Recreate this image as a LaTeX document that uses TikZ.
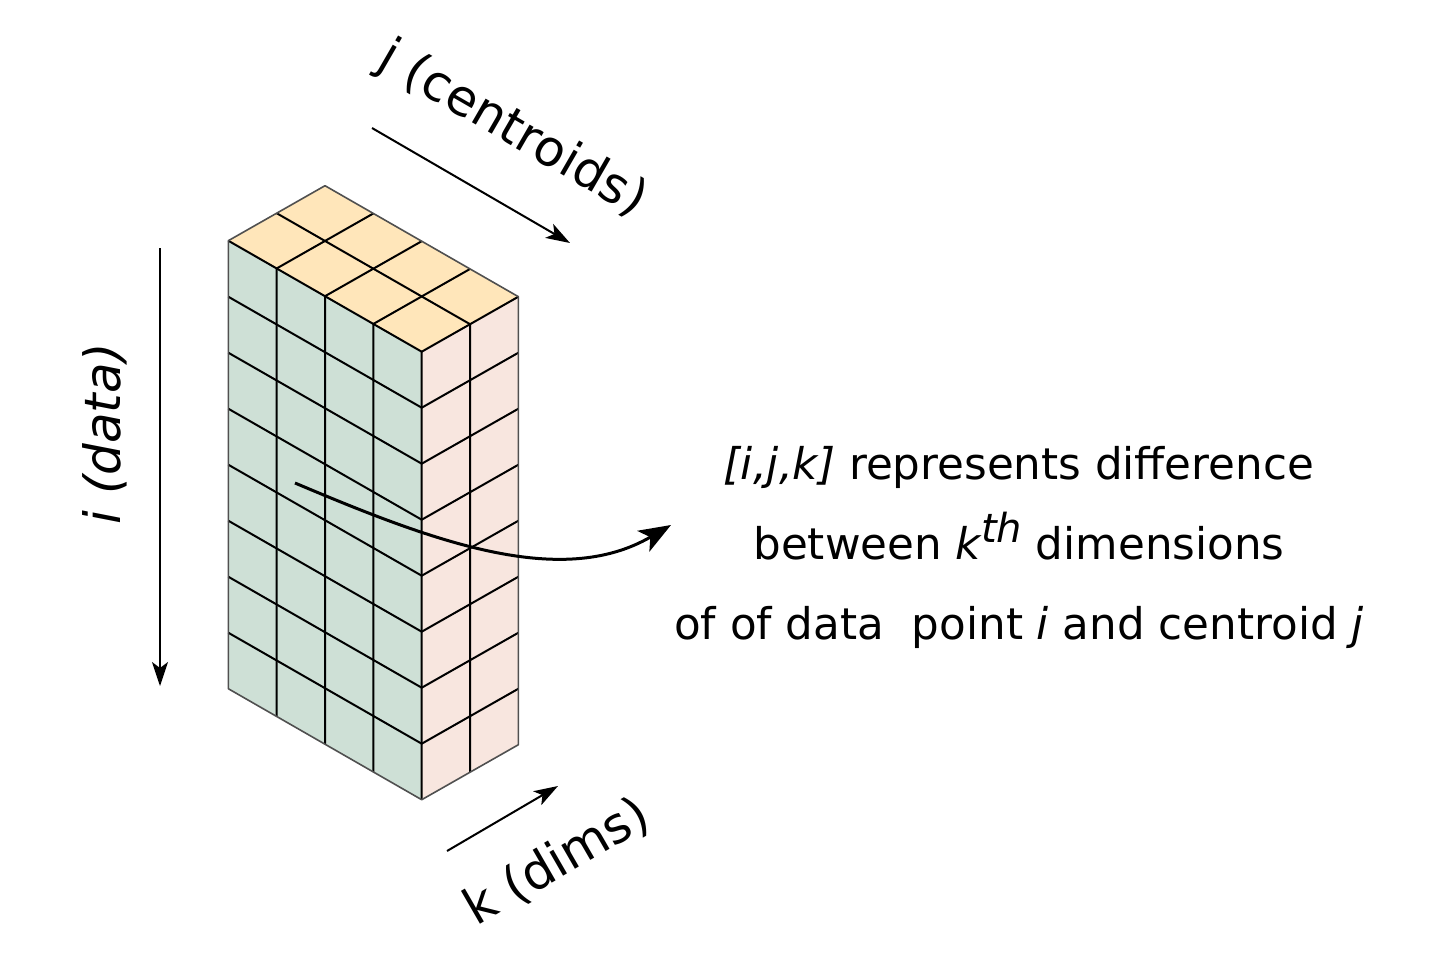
\documentclass[tikz,border=0pt]{standalone}
\usepackage{fontspec}
\setmainfont{DejaVu Sans}
\usetikzlibrary{arrows.meta}
\definecolor{frontgreen}{RGB}{206,224,214}
\definecolor{topyellow}{RGB}{255,230,186}
\definecolor{sidepink}{RGB}{248,230,223}
\definecolor{edgegray}{RGB}{80,80,80}

\begin{document}
\begin{tikzpicture}[x=0.5pt, y=-0.5pt,
  outline/.style={draw=edgegray, line width=0.8pt, line join=round},
  gridline/.style={draw=black, line width=1pt},
  axisarrow/.style={line width=1pt, -{Stealth[length=12pt, width=8pt, inset=3pt]}},
  pointer/.style={line width=1.5pt, -{Stealth[length=16pt, width=12pt, inset=4pt]}},
  axislabel/.style={font=\fontsize{25}{30}\selectfont, inner sep=0pt},
  note/.style={font=\fontsize{21.8}{40}\selectfont, align=center, inner sep=0pt}
]
  \useasboundingbox (0,0) rectangle (1443,959);
  % Block of cells: 4 wide (j), 8 high (i), 2 deep (k)
  \coordinate (corner) at (228.3,240.7);
  \begin{scope}[shift={(corner)}, x={(24.175pt,-13.875pt)}, y={(0pt,-28pt)}, z={(24.175pt,13.75pt)}]
    \fill[frontgreen] (0,0,0) -- (4,0,0) -- (4,8,0) -- (0,8,0) -- cycle;
    \fill[topyellow] (0,0,0) -- (4,0,0) -- (4,0,2) -- (0,0,2) -- cycle;
    \fill[sidepink] (4,0,0) -- (4,0,2) -- (4,8,2) -- (4,8,0) -- cycle;
    % cell lines
    \foreach \c in {1,2,3} {
      \draw[gridline] (\c,0,2) -- (\c,0,0) -- (\c,8,0);
    }
    \foreach \r in {1,...,7} {
      \draw[gridline] (0,\r,0) -- (4,\r,0) -- (4,\r,2);
    }
    \draw[gridline] (0,0,1) -- (4,0,1) -- (4,8,1);
    \draw[gridline] (0,0,0) -- (4,0,0) -- (4,8,0);
    \draw[gridline] (4,0,0) -- (4,0,2);
    % silhouette
    \draw[outline] (0,0,0) -- (0,0,2) -- (4,0,2) -- (4,8,2) -- (4,8,0) -- (0,8,0) -- cycle;
  \end{scope}
  % Axis arrows
  \coordinate (i-from) at (160,248);
  \coordinate (i-to)   at (160,686);
  \coordinate (j-from) at (372,128);
  \coordinate (j-to)   at (570,243);
  \coordinate (k-from) at (447,851);
  \coordinate (k-to)   at (558,786);
  \draw[axisarrow] (i-from) -- (i-to);
  \draw[axisarrow] (j-from) -- (j-to);
  \draw[axisarrow] (k-from) -- (k-to);
  % Axis labels
  \node[axislabel, rotate=90]  (ilabel) at (105,434) {\itshape i (data)};
  \node[axislabel, rotate=-30] (jlabel) at (512,130) {j (centroids)};
  \node[axislabel, rotate=30]  (klabel) at (557,862) {k (dims)};
  % Explanation
  \node[note] (desc) at (1019,547) {{\itshape [i,j,k]} represents difference\\
    between {\itshape k}\raisebox{0.38em}{\fontsize{20}{20}\selectfont\itshape th} dimensions\\
    of of data\ \ point {\itshape i} and centroid {\itshape j}};
  \coordinate (cellpt)  at (295,483);
  \coordinate (desctip) at (671,525);
  \draw[pointer] (cellpt) .. controls (430,540) and (560,590) .. (desctip);
\end{tikzpicture}
\end{document}
